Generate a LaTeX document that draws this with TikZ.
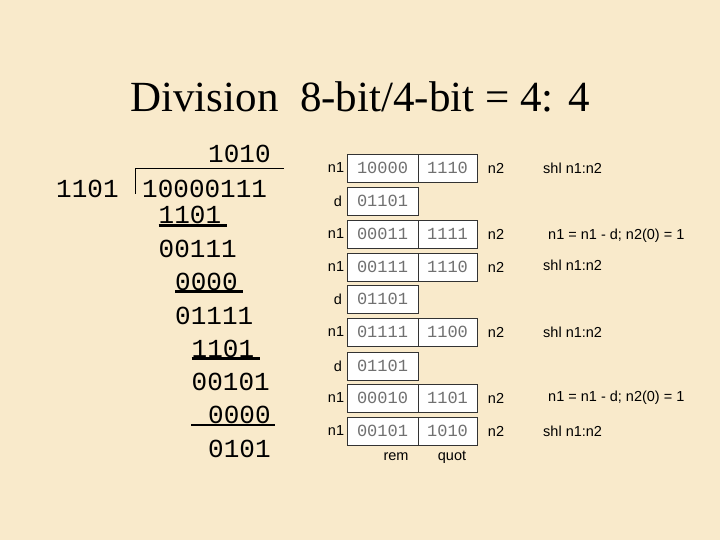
\documentclass[tikz,border=0pt]{standalone}
\usepackage{fontspec}
\setmainfont{Liberation Serif}
\newfontfamily\mono{Liberation Mono}
\newfontfamily\lsans{Liberation Sans}
\definecolor{bg}{HTML}{F9EACB}
\definecolor{boxtxt}{HTML}{707070}
\begin{document}
\begin{tikzpicture}[x=1pt,y=-1pt,
  dig/.style={anchor=base west,inner sep=0pt,font=\mono\fontsize{26}{26}\selectfont},
  cell/.style={draw=black!80,line width=0.8pt,fill=white,minimum height=28pt,inner sep=0pt,font=\mono\fontsize{17}{17}\selectfont,text=boxtxt},
  lab/.style={inner sep=0pt,font=\lsans\fontsize{14.5}{14.5}\selectfont},
  cmt/.style={anchor=west,inner sep=0pt,font=\lsans\fontsize{14.5}{14.5}\selectfont},
  ul/.style={line width=2.2pt}]
\fill[bg] (0,0) rectangle (720,540);
\useasboundingbox (0,0) rectangle (720,540);
\node[inner sep=0pt,font=\fontsize{43}{43}\selectfont] (title) at (360,97) {Division~ 8-bit/4-bit = 4: 4};
% long division
\def\cw{16.5}
\node[dig] (q) at (142+4*\cw,163) {1010};
\node[dig] (dv) at (56,197) {1101};
\node[dig] (dd) at (142,197) {10000111};
\coordinate (b0) at (135,194);
\coordinate (b1) at (135,168);
\coordinate (b2) at (284,168);
\draw[line width=0.9pt] (b0) -- (b1) -- (b2);
\node[dig] (r1) at (142+1*\cw,224) {1101};
\draw[ul] (r1.south west)++(0,1) -- ++(68,0);
\node[dig] (r2) at (142+1*\cw,257) {00111};
\node[dig] (r3) at (142+2*\cw,290) {0000};
\draw[ul] (r3.south west)++(0,1) -- ++(68,0);
\node[dig] (r4) at (142+2*\cw,324) {01111};
\node[dig] (r5) at (142+3*\cw,357) {1101};
\draw[ul] (r5.south west)++(0,1) -- ++(68,0);
\node[dig] (r6) at (142+3*\cw,390) {00101};
\node[dig] (r7) at (142+4*\cw,423) {0000};
\draw[ul] (191,425) -- (275,425);
\node[dig] (r8) at (142+4*\cw,457) {0101};
% register table
\foreach \y/\a/\b [count=\i] in {168/10000/1110, 234/00011/1111, 267/00111/1110, 332/01111/1100, 398/00010/1101, 431/00101/1010}{
  \node[cell,minimum width=71pt] (A\i) at (382.5,\y) {\a};
  \node[cell,minimum width=59pt] (B\i) at (447.5,\y) {\b};
  \node[lab] (L\i) at (336,\y) {n1};
  \node[lab] (R\i) at (496,\y) {n2};
}
\foreach \y [count=\i] in {201,299,366}{
  \node[cell,minimum width=71pt] (D\i) at (382.5,\y) {01101};
  \node[lab] (DL\i) at (338,\y) {d};
}
\node[cmt] (c1) at (543,168) {shl n1:n2};
\node[cmt] (c2) at (548,236) {n1 = n1 - d; n2(0) = 1};
\node[cmt] (c3) at (543,265) {shl n1:n2};
\node[cmt] (c4) at (543,332) {shl n1:n2};
\node[cmt] (c5) at (548,398) {n1 = n1 - d; n2(0) = 1};
\node[cmt] (c6) at (543,431) {shl n1:n2};
\node[lab] (rem) at (396,457) {rem};
\node[lab] (quot) at (452,457) {quot};
\end{tikzpicture}
\end{document}
